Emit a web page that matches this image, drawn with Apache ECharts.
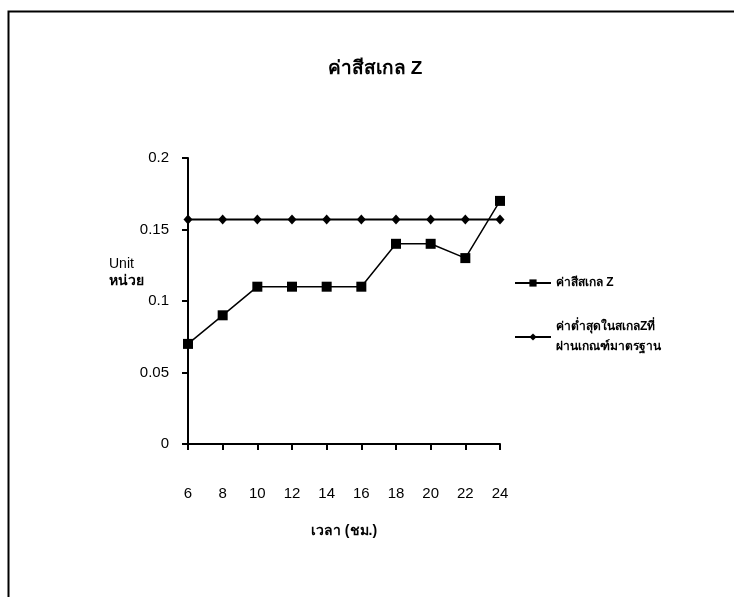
<!DOCTYPE html>
<html><head><meta charset="utf-8">
<script src="https://cdn.jsdelivr.net/npm/echarts@6/dist/echarts.min.js"></script>
<style>html,body{margin:0;padding:0;background:#fff}#c{width:734px;height:597px}</style>
</head><body><div id="c"></div>
<script>
const categories = ['6','8','10','12','14','16','18','20','22','24'];
const scaleZ = [0.07, 0.09, 0.11, 0.11, 0.11, 0.11, 0.14, 0.14, 0.13, 0.17];
const minStandard = [0.157, 0.157, 0.157, 0.157, 0.157, 0.157, 0.157, 0.157, 0.157, 0.157];
const seriesNames = ['ค่าสีสเกล Z', 'ค่าต่ำสุดในสเกลZที่\nผ่านเกณฑ์มาตรฐาน'];
const FONT = 'Liberation Sans, Arial, Noto Sans, sans-serif';
const chart = echarts.init(document.getElementById('c'), null, {renderer:'canvas'});
chart.setOption({
  animation:false,
  backgroundColor:'#fff',
  title:{text:'ค่าสีสเกล Z', left:370, top:54, textAlign:'center',
    textStyle:{fontFamily:FONT, fontSize:19, fontWeight:'bold', color:'#000'}},
  graphic:[
    {type:'rect', shape:{x:8.5,y:11.5,width:740,height:600}, style:{fill:null, stroke:'#000', lineWidth:2}},
    {type:'text', left:109, top:257, style:{text:'Unit', font:'14px '+FONT, fill:'#000'}},
    {type:'text', left:109, top:274, style:{text:'หน่วย', font:'bold 14px '+FONT, fill:'#000'}}
  ],
  legend:{
    orient:'vertical', left:509, top:268, itemGap:24, itemWidth:36, itemHeight:9,
    textStyle:{fontFamily:FONT, fontSize:12, fontWeight:'bold', color:'#000', lineHeight:20},
    data:seriesNames
  },
  grid:{left:188, top:158, width:312, height:286, containLabel:false},
  xAxis:{type:'category', data:categories, boundaryGap:false,
    name:'เวลา (ชม.)', nameLocation:'middle', nameGap:80,
    nameTextStyle:{fontFamily:FONT, fontSize:14, fontWeight:'bold', color:'#000'},
    axisLine:{lineStyle:{color:'#000', width:2}},
    axisTick:{alignWithLabel:true, length:6, inside:false, lineStyle:{color:'#000', width:2}},
    axisLabel:{fontFamily:FONT, fontSize:15, color:'#000', margin:42},
    splitLine:{show:false}},
  yAxis:{type:'value', min:0, max:0.2, interval:0.05,
    axisLine:{show:true, lineStyle:{color:'#000', width:2}},
    axisTick:{show:true, length:6, lineStyle:{color:'#000', width:2}},
    axisLabel:{fontFamily:FONT, fontSize:15, color:'#000', margin:19},
    splitLine:{show:false}},
  series:[
    {name:seriesNames[0], type:'line', data:scaleZ, symbol:'rect', symbolSize:10,
      itemStyle:{color:'#000'}, lineStyle:{color:'#000', width:1.5}},
    {name:seriesNames[1], type:'line', data:minStandard, symbol:'diamond', symbolSize:[9,10],
      itemStyle:{color:'#000'}, lineStyle:{color:'#000', width:2}}
  ]
});
</script></body></html>
